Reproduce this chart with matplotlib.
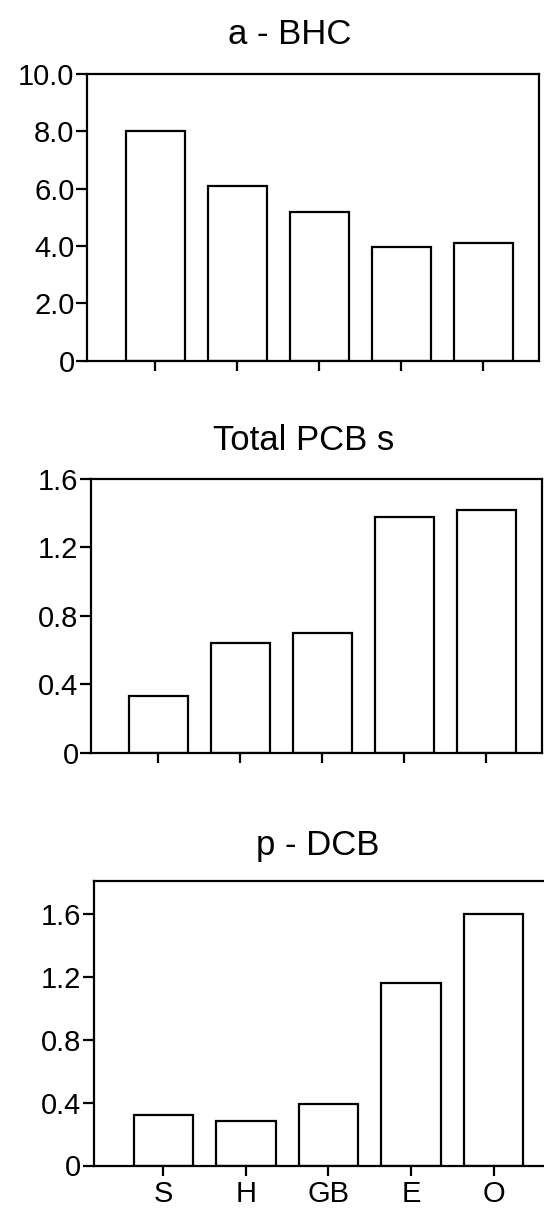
import matplotlib
matplotlib.use("Agg")
import matplotlib.pyplot as plt

# Sampling sites along the x axis
sites = ["S", "H", "GB", "E", "O"]

# Concentrations per site for each compound
bhc_values = [8.0, 6.1, 5.2, 3.95, 4.1]
pcb_values = [0.33, 0.64, 0.70, 1.38, 1.42]
dcb_values = [0.32, 0.28, 0.39, 1.16, 1.60]

# Y-axis ticks and their labels
bhc_ticks = [0, 2, 4, 6, 8, 10]
bhc_ticklabels = ["0", "2.0", "4.0", "6.0", "8.0", "10.0"]
small_ticks = [0, 0.4, 0.8, 1.2, 1.6]
small_ticklabels = ["0", "0.4", "0.8", "1.2", "1.6"]

titles = ["a - BHC", "Total PCB s", "p - DCB"]

plt.rcParams['font.family'] = ['Liberation Sans', 'DejaVu Sans']

W, H = 544, 1213
fig = plt.figure(figsize=(W / 100, H / 100), dpi=100)
fig.patch.set_facecolor("white")


def px_axes(left, top, right, bottom):
    return fig.add_axes([left / W, 1 - bottom / H, (right - left) / W, (bottom - top) / H])


panels = [
    # box in pixels, xlim, ylim, values, ticks, labels, title, title x, title baseline, show x labels
    ((87, 74, 539, 360.5), (-0.83, 4.68), (0, 10.0), bhc_values, bhc_ticks, bhc_ticklabels,
     titles[0], 290, 44, False),
    ((91, 479, 542, 752.5), (-0.82, 4.68), (0, 1.6), pcb_values, small_ticks, small_ticklabels,
     titles[1], 304, 450, False),
    ((94, 881, 548, 1165.5), (-0.84, 4.66), (0, 1.807), dcb_values, small_ticks, small_ticklabels,
     titles[2], 318, 855, True),
]

lw = 1.6
for (box, xlim, ylim, vals, yt, ytl, title, tx, tb, show_x) in panels:
    ax = px_axes(*box)
    ax.bar(range(len(sites)), vals, width=0.72, facecolor="white",
           edgecolor="black", linewidth=lw)
    ax.set_xlim(*xlim)
    ax.set_ylim(*ylim)
    ax.set_yticks(yt)
    ax.set_yticklabels(ytl)
    ax.set_xticks(range(len(sites)))
    ax.set_xticklabels(sites if show_x else [""] * len(sites))
    for sp in ax.spines.values():
        sp.set_linewidth(lw)
        sp.set_color("black")
    ax.tick_params(axis="y", direction="out", length=8, width=lw, pad=1,
                   labelsize=21, colors="black")
    ax.tick_params(axis="x", direction="out", length=7.5, width=lw, pad=3,
                   labelsize=21, colors="black")
    fig.text(tx / W, 1 - tb / H, title, ha="center", va="baseline",
             fontsize=25, color="black")

fig.savefig("out.png", dpi=100, facecolor="white")
